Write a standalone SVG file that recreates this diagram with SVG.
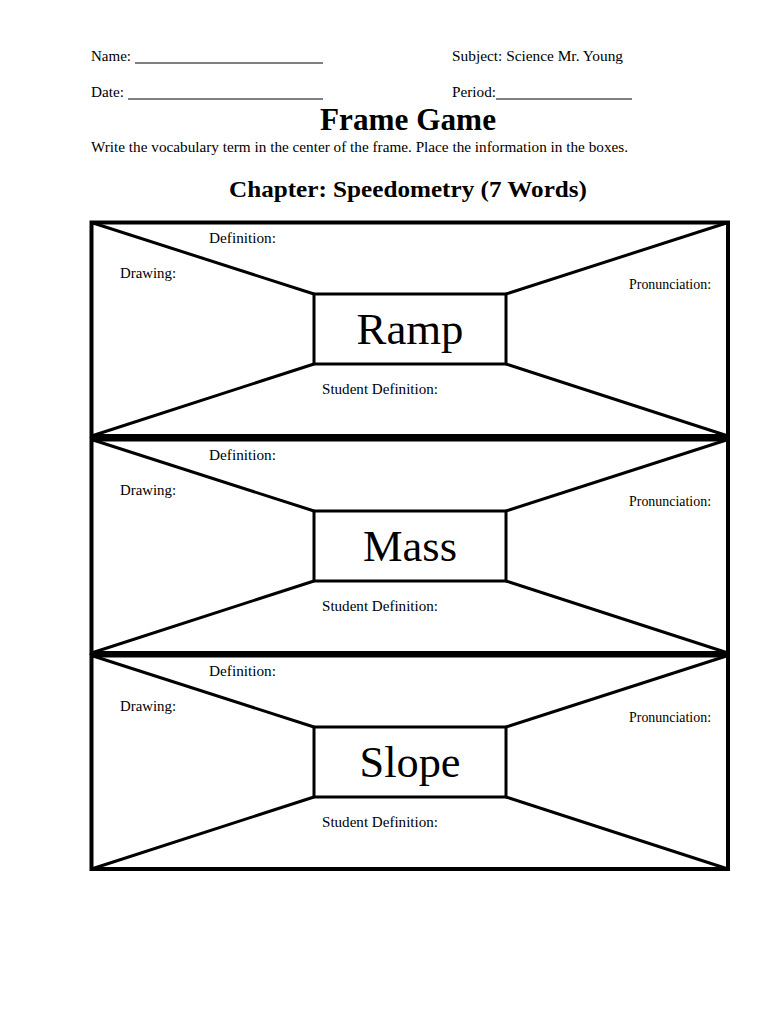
<svg xmlns="http://www.w3.org/2000/svg" width="770" height="1024" viewBox="0 0 770 1024">
<defs>
<style>
.t{font-family:"Liberation Serif","Times New Roman",serif;fill:#000}
.s{font-size:15px}
.h{font-size:15px}
.frame{fill:none;stroke:#000;stroke-width:4}
.ln{stroke:#000;stroke-width:3;fill:none}
.box{fill:#fff;stroke:#000;stroke-width:3}
.word{font-size:45px;text-anchor:middle}
</style>
<g id="frameTpl">
<line class="ln" x1="91.5" y1="222.5" x2="314" y2="294"/>
<line class="ln" x1="728" y1="222.5" x2="506" y2="294"/>
<line class="ln" x1="91.5" y1="436" x2="314" y2="364"/>
<line class="ln" x1="728" y1="436" x2="506" y2="364"/>
<rect class="box" x="314" y="294" width="192" height="70"/>
<rect class="frame" x="91.5" y="222.5" width="636.5" height="213.5"/>
<text class="t s" x="209" y="243" textLength="67" lengthAdjust="spacingAndGlyphs">Definition:</text>
<text class="t s" x="120" y="278" textLength="56" lengthAdjust="spacingAndGlyphs">Drawing:</text>
<text class="t s" x="629" y="289" textLength="82" lengthAdjust="spacingAndGlyphs">Pronunciation:</text>
<text class="t s" x="322" y="394" textLength="116" lengthAdjust="spacingAndGlyphs">Student Definition:</text>
</g>
</defs>
<rect width="770" height="1024" fill="#fff"/>
<g id="header">
<text class="t h" x="91" y="61" textLength="40" lengthAdjust="spacingAndGlyphs">Name:</text>
<line x1="135" y1="63" x2="323" y2="63" stroke="#000" stroke-width="1"/>
<text class="t h" x="452" y="61" textLength="171" lengthAdjust="spacingAndGlyphs">Subject: Science Mr. Young</text>
<text class="t h" x="91" y="97" textLength="33" lengthAdjust="spacingAndGlyphs">Date:</text>
<line x1="128" y1="99" x2="323" y2="99" stroke="#000" stroke-width="1"/>
<text class="t h" x="452" y="97" textLength="44" lengthAdjust="spacingAndGlyphs">Period:</text>
<line x1="496" y1="99" x2="632" y2="99" stroke="#000" stroke-width="1"/>
<text class="t" x="408" y="130" font-size="31" font-weight="bold" text-anchor="middle" textLength="176" lengthAdjust="spacingAndGlyphs">Frame Game</text>
<text class="t" x="91" y="152" font-size="15" textLength="537" lengthAdjust="spacingAndGlyphs">Write the vocabulary term in the center of the frame.  Place the information in the boxes.</text>
<text class="t" x="408" y="197" font-size="24" font-weight="bold" text-anchor="middle" textLength="358" lengthAdjust="spacingAndGlyphs">Chapter: Speedometry (7 Words)</text>
</g>
<g id="frame-ramp">
<use href="#frameTpl"/>
<text class="t word" x="410" y="344" textLength="107" lengthAdjust="spacingAndGlyphs">Ramp</text>
</g>
<g id="frame-mass" transform="translate(0,217)">
<use href="#frameTpl"/>
<text class="t word" x="410" y="344" textLength="94" lengthAdjust="spacingAndGlyphs">Mass</text>
</g>
<g id="frame-slope" transform="translate(0,433)">
<use href="#frameTpl"/>
<text class="t word" x="410" y="344" textLength="101" lengthAdjust="spacingAndGlyphs">Slope</text>
</g>
<g id="connectors"/>
</svg>
